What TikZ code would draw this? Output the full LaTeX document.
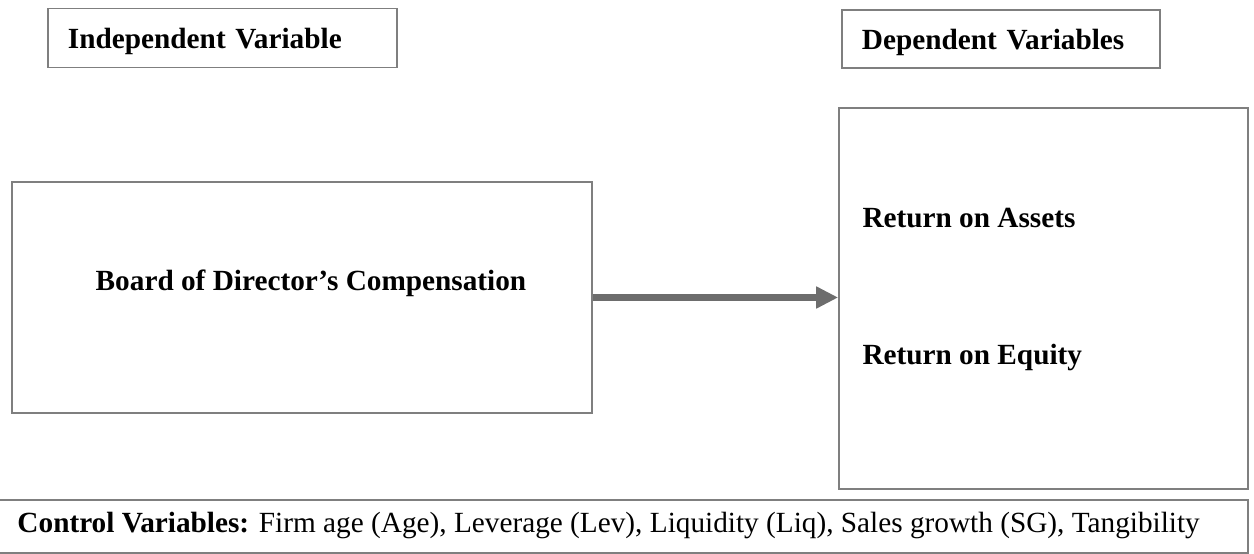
\documentclass[tikz,border=0pt]{standalone}
\usepackage{fontspec}
\setmainfont{Liberation Serif}
\usetikzlibrary{arrows.meta}
\definecolor{boxgray}{HTML}{7F7F7F}
\definecolor{arrowgray}{HTML}{6D6D6D}
\begin{document}
\begin{tikzpicture}[x=0.41pt,y=-0.41pt,
	every node/.style={font=\fontsize{12}{14}\selectfont},
	var box/.style={draw=boxgray,line width=0.7pt,inner sep=0pt},
	head box/.style={var box,inner xsep=8.2pt,align=left,text height=8.5pt,text depth=0pt,font=\fontsize{12}{14}\selectfont\bfseries},
	var text/.style={font=\fontsize{12}{14}\selectfont\bfseries,inner sep=0pt}]
	
	\useasboundingbox (0,0) rectangle (1254,554);
	
	\node[head box,minimum width=143.1pt,minimum height=24.2pt,text width=126.7pt] at (222.5,38) (indep) {Independent Variable};
	\node[head box,minimum width=130.4pt,minimum height=23.8pt,text width=114pt] at (1001,39) (dep) {Dependent Variables};
	
	\node[var box,minimum width=237.8pt,minimum height=94.7pt] at (302,297.5) (board) {};
	\node[var box,minimum width=167.7pt,minimum height=156.2pt] at (1043.5,298.5) (outcome) {};
	
	\node[var text,anchor=base] at (311,291) (comp) {Board of Director’s Compensation};
	\node[var text,anchor=base west] at (862,228) (roa) {Return on Assets};
	\node[var text,anchor=base west] at (862,365) (roe) {Return on Equity};
	
	\node[var box,minimum width=513.7pt,minimum height=21.7pt] at (621.5,526.5) (control) {};
	\node[inner sep=0pt,anchor=base west] at (17,532) (ctrltext) {\textbf{Control Variables:} Firm age (Age), Leverage (Lev), Liquidity (Liq), Sales growth (SG), Tangibility};
	
	\draw[arrowgray,line width=3.1pt,-{Triangle[length=9pt,width=8.5pt]}] (board.east) -- (board.east -| outcome.west);
\end{tikzpicture}
\end{document}
